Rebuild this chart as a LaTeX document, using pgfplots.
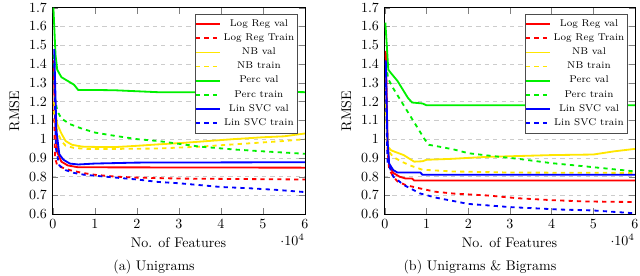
\documentclass[border=0pt]{standalone}
\usepackage{pgfplots}
\pgfplotsset{compat=1.18}
\definecolor{myyellow}{RGB}{255,230,0}
\definecolor{mygreen}{RGB}{0,240,0}
\pgfplotsset{
  rmsestyle/.style={
    scale only axis, width=180.7pt, height=147.5pt,
    xmin=-250, xmax=60000, ymin=0.6, ymax=1.7,
    xtick={0,10000,20000,30000,40000,50000,60000},
    ytick={0.6,0.7,...,1.75},
    ymajorgrids, major grid style={dashed, gray!40},
    xlabel={No. of Features}, ylabel={RMSE},
    every x tick scale label/.style={at={(rel axis cs:1,0)}, anchor=north east, yshift=-14pt, inner sep=0pt},
    legend pos=north east,
    legend cell align=center,
    legend style={font=\scriptsize, draw=black!70, row sep=-0.25pt, inner xsep=0pt, nodes={inner xsep=2pt}},
    every axis plot/.append style={line width=1.3pt, no marks},
  }
}
\begin{document}
\begin{tikzpicture}
\begin{axis}[rmsestyle, at={(0,0)}, anchor=south west]
\addplot[red] coordinates {(200,1.42)(400,1.15)(1000,0.93)(2000,0.88)(3500,0.86)(6000,0.85)(60000,0.848)};
\addlegendentry{Log Reg val}
\addplot[red,dashed] coordinates {(200,1.2)(500,0.9)(1000,0.86)(2000,0.85)(4000,0.835)(7000,0.82)(10000,0.81)(15000,0.8)(20000,0.795)(30000,0.79)(60000,0.785)};
\addlegendentry{Log Reg Train}
\addplot[myyellow] coordinates {(200,1.2)(1000,1.08)(2000,1.03)(3000,0.99)(4500,0.97)(7000,0.96)(11000,0.958)(15000,0.958)(19000,0.963)(25000,0.972)(31000,0.98)(37000,0.99)(43000,1.0)(50000,1.01)(55000,1.015)(60000,1.03)};
\addlegendentry{NB val}
\addplot[myyellow,dashed] coordinates {(200,1.15)(1000,1.04)(2000,0.99)(3000,0.965)(5000,0.953)(8000,0.948)(15000,0.948)(25000,0.95)(35000,0.96)(45000,0.975)(55000,0.99)(60000,1.0)};
\addlegendentry{NB train}
\addplot[mygreen] coordinates {(100,1.7)(600,1.45)(1000,1.37)(2000,1.33)(3500,1.31)(5000,1.29)(6000,1.262)(10000,1.262)(15000,1.26)(20000,1.255)(25000,1.25)(40000,1.25)(50000,1.255)(60000,1.25)};
\addlegendentry{Perc val}
\addplot[mygreen,dashed] coordinates {(200,1.45)(500,1.22)(1000,1.15)(2000,1.11)(4000,1.08)(7000,1.055)(10000,1.035)(14000,1.02)(20000,1.0)(25000,0.99)(30000,0.975)(35000,0.96)(43000,0.945)(50000,0.935)(60000,0.922)};
\addlegendentry{Perc train}
\addplot[blue] coordinates {(300,1.48)(800,1.05)(1500,0.92)(2500,0.89)(4000,0.87)(6000,0.865)(10000,0.87)(20000,0.875)(60000,0.877)};
\addlegendentry{Lin SVC val}
\addplot[blue,dashed] coordinates {(300,1.4)(700,0.95)(1500,0.86)(3000,0.835)(5000,0.82)(7500,0.81)(10000,0.805)(15000,0.795)(20000,0.785)(25000,0.772)(30000,0.765)(35000,0.755)(40000,0.745)(47000,0.738)(53000,0.73)(60000,0.718)};
\addlegendentry{Lin SVC train}
\end{axis}
\begin{axis}[rmsestyle, at={(237.1pt,0)}, anchor=south west, width=179.3pt]
\addplot[red] coordinates {(200,1.47)(600,1.0)(1000,0.86)(2000,0.82)(3500,0.8)(5000,0.79)(6500,0.79)(7000,0.78)(60000,0.78)};
\addlegendentry{Log Reg val}
\addplot[red,dashed] coordinates {(200,1.45)(600,0.95)(1000,0.84)(2000,0.8)(3000,0.775)(5000,0.755)(8500,0.737)(12000,0.72)(16500,0.71)(24500,0.70)(32000,0.685)(40000,0.675)(48000,0.668)(60000,0.665)};
\addlegendentry{Log Reg Train}
\addplot[myyellow] coordinates {(200,1.2)(700,0.96)(1500,0.94)(4500,0.915)(7000,0.88)(9000,0.882)(10000,0.89)(16000,0.895)(24000,0.905)(32000,0.91)(40000,0.915)(50000,0.918)(55000,0.935)(60000,0.948)};
\addlegendentry{NB val}
\addplot[myyellow,dashed] coordinates {(200,1.15)(700,0.94)(2000,0.905)(4000,0.88)(6000,0.86)(9000,0.837)(16000,0.828)(30000,0.822)(60000,0.82)};
\addlegendentry{NB train}
\addplot[mygreen] coordinates {(100,1.62)(800,1.37)(1500,1.35)(3000,1.31)(5500,1.22)(6500,1.195)(9000,1.19)(10000,1.18)(60000,1.18)};
\addlegendentry{Perc val}
\addplot[mygreen,dashed] coordinates {(200,1.4)(800,1.32)(2000,1.27)(4500,1.18)(7000,1.09)(9500,1.0)(10500,0.97)(13000,0.96)(16500,0.945)(20000,0.925)(25000,0.912)(32000,0.895)(40000,0.872)(48000,0.855)(60000,0.828)};
\addlegendentry{Perc train}
\addplot[blue] coordinates {(200,1.42)(600,1.0)(1000,0.87)(2000,0.835)(3000,0.822)(8500,0.822)(9000,0.81)(60000,0.81)};
\addlegendentry{Lin SVC val}
\addplot[blue,dashed] coordinates {(200,1.3)(600,0.88)(2000,0.8)(4500,0.756)(8500,0.71)(12500,0.687)(20000,0.655)(30000,0.638)(42000,0.625)(50000,0.62)(60000,0.605)};
\addlegendentry{Lin SVC train}
\end{axis}
\node at (72.9pt,-37.9pt) {(a) Unigrams};
\node at (305.7pt,-37.9pt) {(b) Unigrams \& Bigrams};
\pgfresetboundingbox
\useasboundingbox (-37.1pt,-43.6pt) rectangle (420pt,153pt);
\end{tikzpicture}
\end{document}
